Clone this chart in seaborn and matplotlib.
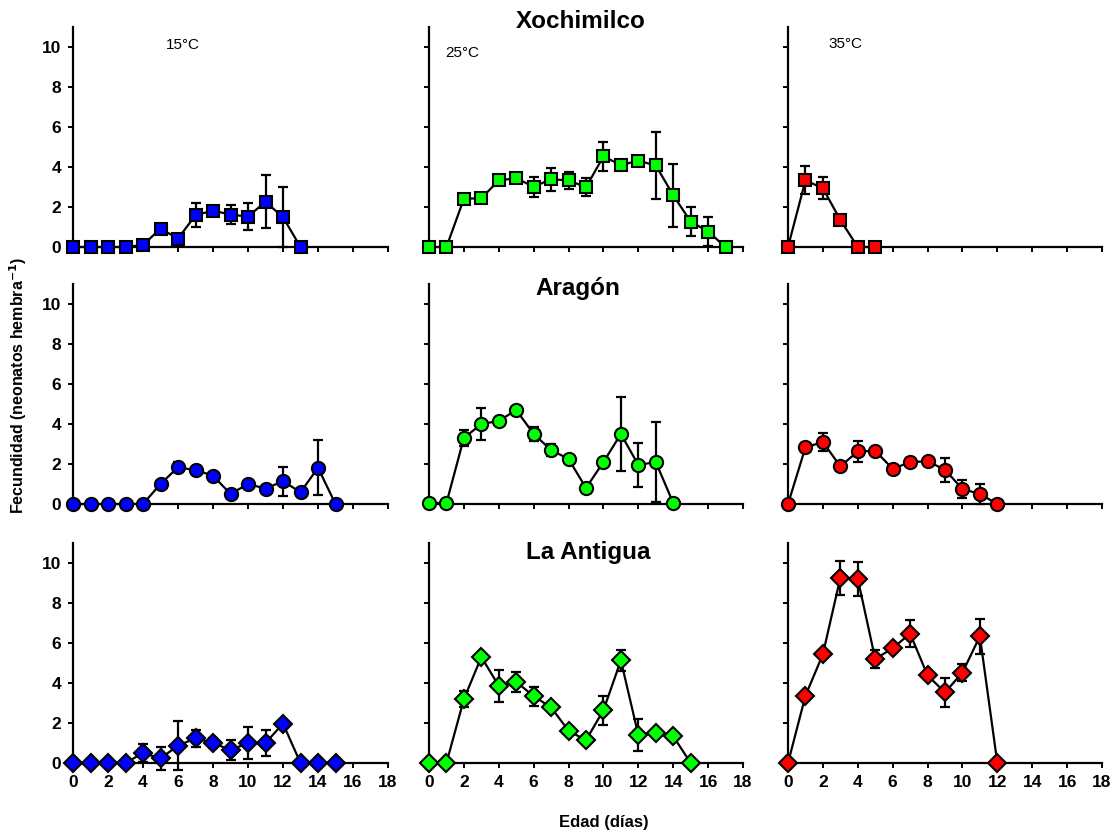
import numpy as np
import pandas as pd
import matplotlib
matplotlib.use("Agg")
import matplotlib.pyplot as plt
import seaborn as sns

# ---------------- data ----------------
sites = ["Xochimilco", "Aragón", "La Antigua"]
temps = ["15°C", "25°C", "35°C"]
x_ticks = [0, 2, 4, 6, 8, 10, 12, 14, 16, 18]
y_ticks = [0, 2, 4, 6, 8, 10]

# Xochimilco
x_xoc_15 = [0, 1, 2, 3, 4, 5, 6, 7, 8, 9, 10, 11, 12, 13]
y_xoc_15 = [0, 0, 0, 0, 0.1, 0.92, 0.42, 1.59, 1.82, 1.62, 1.52, 2.26, 1.49, 0]
e_xoc_15 = [0, 0, 0, 0, 0, 0, 0, 0.6, 0.12, 0.47, 0.68, 1.32, 1.5, 0]

x_xoc_25 = [0, 1, 2, 3, 4, 5, 6, 7, 8, 9, 10, 11, 12, 13, 14, 15, 16, 17]
y_xoc_25 = [0, 0, 2.41, 2.44, 3.33, 3.44, 3.01, 3.39, 3.33, 2.99, 4.53, 4.1, 4.31, 4.08, 2.59, 1.27, 0.77, 0]
e_xoc_25 = [0, 0, 0.15, 0.1, 0.1, 0.1, 0.49, 0.58, 0.42, 0.45, 0.72, 0, 0, 1.66, 1.57, 0.72, 0.73, 0]

x_xoc_35 = [0, 1, 2, 3, 4, 5]
y_xoc_35 = [0, 3.33, 2.94, 1.35, 0, 0]
e_xoc_35 = [0, 0.7, 0.55, 0, 0, 0]

# Aragón
x_ara_15 = [0, 1, 2, 3, 4, 5, 6, 7, 8, 9, 10, 11, 12, 13, 14, 15]
y_ara_15 = [0, 0, 0, 0, 0, 1.0, 1.84, 1.69, 1.42, 0.5, 1.0, 0.77, 1.14, 0.59, 1.81, 0]
e_ara_15 = [0, 0, 0, 0, 0, 0, 0.25, 0, 0, 0, 0, 0, 0.72, 0.15, 1.38, 0]

x_ara_25 = [0, 1, 2, 3, 4, 5, 6, 7, 8, 9, 10, 11, 12, 13, 14]
y_ara_25 = [0.05, 0.05, 3.3, 4.0, 4.15, 4.7, 3.5, 2.7, 2.25, 0.8, 2.1, 3.5, 1.95, 2.1, 0.05]
e_ara_25 = [0, 0, 0.38, 0.78, 0, 0, 0.35, 0.3, 0, 0, 0, 1.85, 1.09, 2.0, 0]

x_ara_35 = [0, 1, 2, 3, 4, 5, 6, 7, 8, 9, 10, 11, 12]
y_ara_35 = [0, 2.83, 3.1, 1.88, 2.63, 2.66, 1.76, 2.09, 2.14, 1.71, 0.75, 0.5, 0]
e_ara_35 = [0, 0, 0.45, 0, 0.52, 0, 0.2, 0, 0, 0.6, 0.45, 0.49, 0]

# La Antigua
x_ant_15 = [0, 1, 2, 3, 4, 5, 6, 7, 8, 9, 10, 11, 12, 13, 14, 15]
y_ant_15 = [0, 0, 0, 0, 0.5, 0.23, 0.87, 1.24, 1.0, 0.65, 1.0, 1.0, 1.97, 0, 0, 0]
e_ant_15 = [0, 0, 0, 0, 0.44, 0.57, 1.24, 0.43, 0.25, 0.49, 0.79, 0.64, 0, 0, 0, 0]

x_ant_25 = [0, 1, 2, 3, 4, 5, 6, 7, 8, 9, 10, 11, 12, 13, 14, 15]
y_ant_25 = [0, 0, 3.19, 5.3, 3.86, 4.06, 3.34, 2.78, 1.61, 1.14, 2.64, 5.13, 1.4, 1.52, 1.34, 0]
e_ant_25 = [0, 0, 0.4, 0, 0.8, 0.5, 0.47, 0.2, 0, 0, 0.72, 0.52, 0.79, 0, 0, 0]

x_ant_35 = [0, 1, 2, 3, 4, 5, 6, 7, 8, 9, 10, 11, 12]
y_ant_35 = [0, 3.36, 5.44, 9.26, 9.21, 5.2, 5.74, 6.47, 4.38, 3.53, 4.52, 6.34, 0]
e_ant_35 = [0, 0.2, 0.1, 0.84, 0.84, 0.47, 0, 0.69, 0, 0.72, 0.43, 0.88, 0]

panels = [
    [(x_xoc_15, y_xoc_15, e_xoc_15), (x_xoc_25, y_xoc_25, e_xoc_25), (x_xoc_35, y_xoc_35, e_xoc_35)],
    [(x_ara_15, y_ara_15, e_ara_15), (x_ara_25, y_ara_25, e_ara_25), (x_ara_35, y_ara_35, e_ara_35)],
    [(x_ant_15, y_ant_15, e_ant_15), (x_ant_25, y_ant_25, e_ant_25), (x_ant_35, y_ant_35, e_ant_35)],
]

# ---------------- style ----------------
sns.set_style("ticks")
plt.rcParams["font.family"] = ["Liberation Sans", "DejaVu Sans"]
plt.rcParams["text.color"] = "black"
plt.rcParams["xtick.color"] = "black"
plt.rcParams["ytick.color"] = "black"
plt.rcParams["xtick.labelcolor"] = "black"
plt.rcParams["ytick.labelcolor"] = "black"

col_colors = ["#0000FF", "#00FF00", "#FF0000"]
row_markers = ["s", "o", "D"]
row_msize = [9.0, 9.5, 9.5]

W, H = 1115, 835
fig = plt.figure(figsize=(W / 100, H / 100), dpi=100)

col_left = [73, 429, 788]
col_width = [315, 314, 314]
row_bottom = [247, 504, 763]
ax_h = 220

for r in range(3):
    for c in range(3):
        left = col_left[c] / W
        bottom = (H - row_bottom[r]) / H
        ax = fig.add_axes([left, bottom, col_width[c] / W, ax_h / H])
        xs, ys, es = panels[r][c]
        df = pd.DataFrame({"Edad": xs, "Fec": ys, "err": es})
        ax.errorbar(df["Edad"], df["Fec"], yerr=df["err"], fmt="none",
                    ecolor="black", elinewidth=1.6, capsize=3.5, capthick=1.6,
                    zorder=2, clip_on=False)
        sns.lineplot(data=df, x="Edad", y="Fec", ax=ax, color="black",
                     linewidth=1.6, marker=row_markers[r],
                     markersize=row_msize[r], markerfacecolor=col_colors[c],
                     markeredgecolor="black", markeredgewidth=1.5,
                     zorder=3, clip_on=False, estimator=None)
        ax.set_xlim(0, 18)
        ax.set_ylim(0, 11)
        ax.set_xticks(x_ticks)
        ax.set_yticks(y_ticks)
        ax.set_xlabel("")
        ax.set_ylabel("")
        for s in ["top", "right"]:
            ax.spines[s].set_visible(False)
        for s in ["left", "bottom"]:
            ax.spines[s].set_linewidth(1.6)
            ax.spines[s].set_color("black")
        ax.tick_params(axis="both", direction="out", length=3.5, width=1.4,
                       color="black", labelsize=12.5, pad=5,
                       labelcolor="black")
        if r < 2:
            ax.set_xticklabels([])
        else:
            ax.set_xticklabels([str(t) for t in x_ticks], fontweight="bold")
        if c > 0:
            ax.set_yticklabels([])
        else:
            ax.set_yticklabels([str(t) for t in y_ticks], fontweight="bold")
        if r == 0:
            tx = [6.3, 1.9, 3.27][c]
            ty = [10.1, 9.7, 10.15][c]
            ax.text(tx, ty, temps[c], fontsize=11, ha="center", va="center",
                    color="black")

title_pos = [(581, 21), (578, 288), (588, 552)]
for (px, py), name in zip(title_pos, sites):
    fig.text(px / W, 1 - py / H, name, fontsize=17.5, fontweight="bold",
             ha="center", va="center", color="black")

fig.text(18 / W, 1 - 385 / H, "Fecundidad (neonatos hembra$^{\\mathbf{-1}}$)",
         rotation=90, fontsize=11.5, fontweight="bold", ha="center",
         va="center", color="black")
fig.text(604 / W, 1 - 823 / H, "Edad (días)", fontsize=12,
         fontweight="bold", ha="center", va="center", color="black")

fig.savefig("out.png", dpi=100, facecolor="white")
